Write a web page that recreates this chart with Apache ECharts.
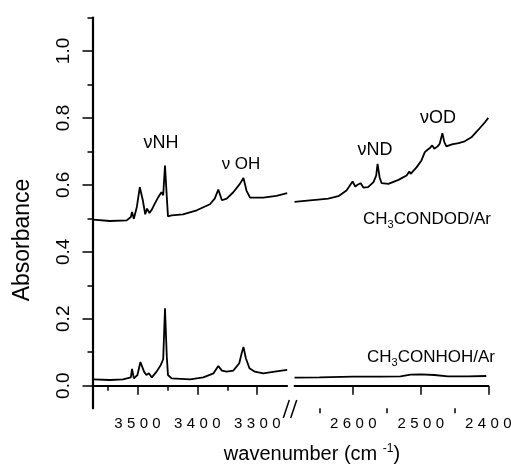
<!DOCTYPE html>
<html><head><meta charset="utf-8">
<script src="https://cdn.jsdelivr.net/npm/echarts@6/dist/echarts.min.js"></script>
<style>html,body{margin:0;padding:0;background:#fff}#c{width:511px;height:467px}</style>
</head><body><div id="c"></div>
<script>
// CH3CONDOD/Ar, high-wavenumber segment
const wnTopLeft = [3574,3546,3518,3511,3509,3506,3501,3496,3491,3487,3484,3480,3476,3471,3465,3460,3457,3454,3451,3449,3443,3424,3401,3379,3371,3365,3359,3351,3340,3329,3323,3318,3312,3290,3268,3250];
const absTopLeft = [0.496,0.492,0.494,0.504,0.519,0.499,0.534,0.593,0.554,0.512,0.529,0.516,0.526,0.544,0.564,0.578,0.569,0.658,0.564,0.506,0.509,0.512,0.524,0.542,0.559,0.586,0.554,0.559,0.578,0.603,0.621,0.583,0.562,0.562,0.567,0.575];
// CH3CONDOD/Ar, low-wavenumber segment
const wnTopRight = [2687,2672,2652,2637,2622,2610,2605,2601,2597,2593,2589,2585,2578,2570,2566,2564,2561,2558,2548,2533,2521,2517,2515,2506,2499,2494,2490,2486,2483,2480,2475,2472,2468,2465,2462,2454,2444,2435,2425,2415,2405,2400];
const absTopRight = [0.549,0.552,0.556,0.559,0.566,0.583,0.598,0.610,0.595,0.601,0.605,0.592,0.593,0.608,0.628,0.663,0.623,0.605,0.603,0.615,0.628,0.640,0.633,0.653,0.673,0.698,0.705,0.711,0.718,0.708,0.715,0.723,0.754,0.727,0.715,0.721,0.725,0.730,0.742,0.764,0.787,0.800];
// CH3CONHOH/Ar, high-wavenumber segment
const wnBotLeft = [3574,3546,3524,3511,3509,3506,3500,3495,3489,3485,3481,3476,3468,3461,3457,3454,3451,3449,3443,3412,3390,3373,3365,3359,3351,3340,3330,3326,3323,3319,3313,3304,3290,3268,3250];
const absBotLeft = [0.019,0.017,0.019,0.025,0.050,0.022,0.032,0.071,0.042,0.032,0.037,0.025,0.042,0.062,0.079,0.231,0.087,0.032,0.022,0.019,0.025,0.037,0.059,0.045,0.042,0.045,0.067,0.097,0.116,0.082,0.052,0.042,0.037,0.043,0.047];
// CH3CONHOH/Ar, low-wavenumber segment
const wnBotRight = [2687,2650,2600,2560,2530,2515,2500,2480,2460,2430,2403];
const absBotRight = [0.024,0.025,0.027,0.027,0.028,0.033,0.034,0.032,0.028,0.028,0.029];

const xTicksLeftMajor = [3500,3400,3300];
const xTicksLeftMinor = [3550,3450,3350];
const xTicksRightMajor = [2600,2500,2400];
const xTicksRightMinor = [2650,2550,2450];
const yTicksMajor = [0.0,0.2,0.4,0.6,0.8,1.0];
const yTicksMinor = [0.1,0.3,0.5,0.7,0.9,1.1];

const FONT = '"Liberation Sans", Arial, sans-serif';
const BLACK = '#000';
function pairs(xs, ys){ return xs.map((x,i)=>[x, ys[i]]); }

const yMin = -0.0675, yMax = 1.1;
const xLabel = {
  margin: 8,
  formatter: v => String(v).split('').map(c => '{d|' + c + '}').join(''),
  rich: { d: { fontSize: 15, fontFamily: FONT, color: BLACK, padding: [0, 2.2] } }
};
function majorX(grid, min, max, ticks){
  return { gridIndex: grid, type: 'value', inverse: true, min, max, position: 'bottom',
    axisLine: { show: true, lineStyle: { color: BLACK, width: 1.8 } },
    axisTick: { show: true, customValues: ticks, length: 9, lineStyle: { color: BLACK, width: 1.5 } },
    axisLabel: Object.assign({ show: true, customValues: ticks }, xLabel),
    splitLine: { show: false } };
}
function minorX(grid, min, max, ticks){
  return { gridIndex: grid, type: 'value', inverse: true, min, max, position: 'bottom',
    axisLine: { show: false },
    axisTick: { show: true, customValues: ticks, length: 5, lineStyle: { color: BLACK, width: 1.5 } },
    axisLabel: { show: false }, splitLine: { show: false } };
}
function lineSeries(xi, yi, xs, ys){
  return { type: 'line', xAxisIndex: xi, yAxisIndex: yi, data: pairs(xs, ys),
    showSymbol: false, symbol: 'none', silent: true,
    lineStyle: { color: BLACK, width: 1.8 } };
}
function txt(x, y, size, text, extra){
  return Object.assign({ type: 'text', x, y, silent: true,
    style: { text, font: size + 'px ' + FONT, fontSize: size, fontFamily: FONT, fill: BLACK,
      align: 'center', verticalAlign: 'middle', textAlign: 'center', textVerticalAlign: 'middle' } }, extra || {});
}
function subText(x, y, size, a, sub, b){
  const t = txt(x, y, size, '{n|' + a + '}{s|' + sub + '}{n|' + b + '}');
  t.style.rich = {
    n: { fontSize: size, fontFamily: FONT, fill: BLACK, color: BLACK, lineHeight: 22, verticalAlign: 'middle' },
    s: { fontSize: 11, fontFamily: FONT, fill: BLACK, color: BLACK, lineHeight: 9, verticalAlign: 'bottom' }
  };
  return t;
}

const chart = echarts.init(document.getElementById('c'), null, { renderer: 'canvas' });
const xTitle = txt(312, 454, 20, '{n|wavenumber (cm }{s|-1}{n|)}');
xTitle.style.rich = {
  n: { fontSize: 20, fontFamily: FONT, fill: BLACK, color: BLACK, lineHeight: 22, verticalAlign: 'middle' },
  s: { fontSize: 12, fontFamily: FONT, fill: BLACK, color: BLACK, lineHeight: 10, verticalAlign: 'top' }
};

chart.setOption({
  animation: false,
  backgroundColor: '#fff',
  textStyle: { fontFamily: FONT, color: BLACK },
  grid: [
    { left: 92.5, top: 17.5, width: 194.7, height: 390.8, containLabel: false, outerBoundsMode: 'none' },
    { left: 294.5, top: 17.5, width: 193.8, height: 390.8, containLabel: false, outerBoundsMode: 'none' }
  ],
  xAxis: [
    majorX(0, 3250, 3575, xTicksLeftMajor),
    minorX(0, 3250, 3575, xTicksLeftMinor),
    majorX(1, 2400, 2687, xTicksRightMajor),
    minorX(1, 2400, 2687, xTicksRightMinor)
  ],
  yAxis: [
    { gridIndex: 0, type: 'value', min: yMin, max: yMax, position: 'left',
      axisLine: { show: true, lineStyle: { color: BLACK, width: 2.2 } },
      axisTick: { show: true, customValues: yTicksMajor, length: 10, lineStyle: { color: BLACK, width: 1.5 } },
      axisLabel: { show: true, customValues: yTicksMajor, rotate: 90, margin: 19, fontSize: 19, fontFamily: FONT, color: BLACK,
        formatter: v => v.toFixed(1) },
      splitLine: { show: false } },
    { gridIndex: 0, type: 'value', min: yMin, max: yMax, position: 'left',
      axisLine: { show: false },
      axisTick: { show: true, customValues: yTicksMinor, length: 5, lineStyle: { color: BLACK, width: 1.5 } },
      axisLabel: { show: false }, splitLine: { show: false } },
    { gridIndex: 1, type: 'value', min: yMin, max: yMax, show: false, splitLine: { show: false } }
  ],
  series: [
    lineSeries(0, 0, wnTopLeft, absTopLeft),
    lineSeries(2, 2, wnTopRight, absTopRight),
    lineSeries(0, 0, wnBotLeft, absBotLeft),
    lineSeries(2, 2, wnBotRight, absBotRight)
  ],
  graphic: { elements: [
    txt(22.5, 240, 23, 'Absorbance', { rotation: Math.PI / 2 }),
    xTitle,
    txt(161, 143, 18, '\u03BDNH'),
    txt(241, 164, 17, '\u03BD OH'),
    txt(375, 150, 18, '\u03BDND'),
    txt(438, 118, 18, '\u03BDOD'),
    subText(427, 219, 17, 'CH', '3', 'CONDOD/Ar'),
    subText(431, 357.5, 17, 'CH', '3', 'CONHOH/Ar'),
    { type: 'line', silent: true, shape: { x1: 283.3, y1: 418, x2: 289.3, y2: 400 }, style: { stroke: BLACK, lineWidth: 1.5 } },
    { type: 'line', silent: true, shape: { x1: 290.7, y1: 418, x2: 296.7, y2: 400 }, style: { stroke: BLACK, lineWidth: 1.5 } }
  ] }
});
</script></body></html>
